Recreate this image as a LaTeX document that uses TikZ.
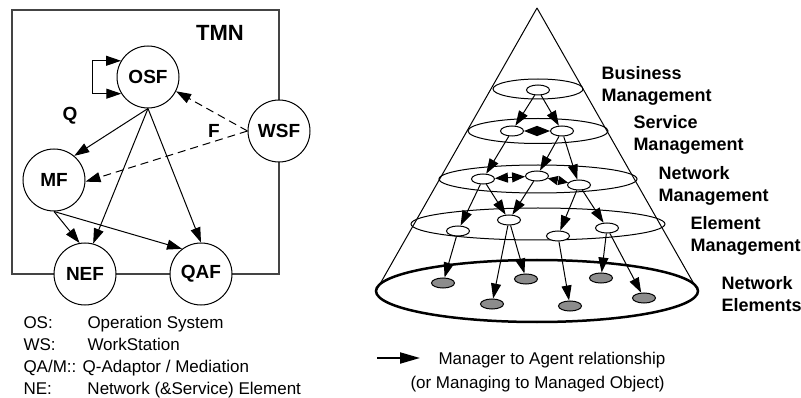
\documentclass[tikz,border=0pt]{standalone}
\usepackage{fontspec}
\setmainfont{Liberation Sans}
\usepackage{xcolor}
\usetikzlibrary{
	arrows.meta, shapes.geometric,
	positioning, calc
}
\definecolor{boxgray}{RGB}{68,68,68}
\definecolor{negray}{RGB}{140,140,140}
\tikzstyle{line} = [draw, -{Triangle[length=15pt,width=10pt]}]
\tikzstyle{loopline} = [draw, {Triangle[length=15pt,width=10pt]}-{Triangle[length=15pt,width=10pt]}]
\tikzstyle{peer} = [draw, {Triangle[length=13pt,width=10pt]}-{Triangle[length=13pt,width=10pt]}]
\tikzstyle{dline} = [line, dash pattern=on 8pt off 5pt]
\tikzstyle{key} = [draw, line width=2pt, -{Triangle[length=20pt,width=11pt]}]
\tikzstyle{fblock} = [circle, draw, fill=white, minimum size=62pt, inner sep=0pt, font=\fontsize{19}{19}\selectfont\bfseries]
\tikzstyle{iface} = [inner sep=0pt, font=\fontsize{19}{19}\selectfont\bfseries]
\tikzstyle{mobj} = [ellipse, draw, fill=white, minimum width=23pt, minimum height=10pt, inner sep=0pt]
\tikzstyle{nelem} = [mobj, fill=negray]
\tikzstyle{lvl} = [anchor=base west, align=left, inner sep=0pt, font=\fontsize{18}{22}\selectfont\bfseries]
\tikzstyle{legend} = [anchor=base west, align=left, inner sep=0pt, font=\fontsize{17}{21.7}\selectfont]

\begin{document}
\begin{tikzpicture}[x=1pt, y=-1pt, line width=1pt]
    \useasboundingbox (0,0) rectangle (801,398);
    %%% TMN functional blocks:
    \draw[boxgray, line width=1.5pt] (12,10) rectangle (279,274);
    \node[iface, font=\fontsize{22}{22}\selectfont\bfseries] (tmn) at (220,33) {TMN};
    \node[fblock] (osf) at (148,77) {OSF};
    \node[fblock] (wsf) at (279,131) {WSF};
    \node[fblock] (mf) at (54,180) {MF};
    \node[fblock] (nef) at (85,274) {NEF};
    \node[fblock] (qaf) at (201,274) {QAF};
    \node[iface] (q) at (70,116) {Q};
    \node[iface] (f) at (214,131) {F};
    \path [loopline] (osf.149) -- ++(-29,0) |- (osf.212);
    \path [line] (osf.south) -- (mf.50);
    \path [line] (osf.south) -- (nef.75);
    \path [line] (osf.south) -- (qaf.north);
    \path [line] (mf.south) -- (nef.100);
    \path [line] (mf.south) -- (qaf.127);
    \path [dline] (wsf.west) -- (osf.333);
    \path [dline] (wsf.west) -- (mf.-3);
    % base of a multi-line node is its last line
    \node[legend] (abbr) at (23,394) {\makebox[64pt][l]{OS:}Operation System\\
      \makebox[64pt][l]{WS:}WorkStation\\
      QA/M:: Q-Adaptor / Mediation\\
      \makebox[64pt][l]{NE:}Network (\&Service) Element};
    %%% Management pyramid:
    \coordinate (apex) at (537,8);
    \draw (apex) -- (376,291);
    \draw (apex) -- (698,291);
    \draw (538,89) ellipse [x radius=45pt, y radius=10pt];
    \draw (538,131) ellipse [x radius=70pt, y radius=12.5pt];
    \draw (538,179) ellipse [x radius=99pt, y radius=14pt];
    \draw (538,224) ellipse [x radius=127pt, y radius=16pt];
    \draw[line width=2.5pt] (537,291) ellipse [x radius=161pt, y radius=31pt];
    \node[mobj] (bm) at (538,90) {};
    \node[mobj] (sm1) at (512,131) {};
    \node[mobj] (sm2) at (562,131) {};
    \node[mobj] (nm1) at (483,179) {};
    \node[mobj] (nm2) at (537,176) {};
    \node[mobj] (nm3) at (579,185) {};
    \node[mobj] (em1) at (458,231) {};
    \node[mobj] (em2) at (509,220) {};
    \node[mobj] (em3) at (558,236) {};
    \node[mobj] (em4) at (607,228) {};
    \node[nelem] (ne1) at (443,283) {};
    \node[nelem] (ne2) at (492,304) {};
    \node[nelem] (ne3) at (526,279) {};
    \node[nelem] (ne4) at (570,306) {};
    \node[nelem] (ne5) at (601,278) {};
    \node[nelem] (ne6) at (644,298) {};
    \path [line] (bm) -- (sm1); \path [line] (bm) -- (sm2);
    \path [peer] (sm1) -- (sm2);
    \path [line] (sm1) -- (nm1); \path [line] (sm2) -- (nm2);
    \path [line] (sm2) -- (nm3);
    \path [peer] (nm1) -- (nm2);
    \path [peer, {Triangle[length=10pt,width=9pt]}-{Triangle[length=10pt,width=9pt]}] (nm2) -- (nm3);
    \path [line] (nm1) -- (em1); \path [line] (nm1) -- (em2);
    \path [line] (nm2) -- (em2);
    \path [line] (nm3) -- (em3); \path [line] (nm3) -- (em4);
    \path [line] (em1) -- (ne1);
    \path [line] (em2) -- (ne2); \path [line] (em2) -- (ne3);
    \path [line] (em3) -- (ne4);
    \path [line] (em4) -- (ne5); \path [line] (em4) -- (ne6);
    \node[lvl] (bus) at (601,102) {Business\\Management};
    \node[lvl] (svc) at (633,151) {Service\\Management};
    \node[lvl] (net) at (658,202) {Network\\Management};
    \node[lvl] (ele) at (690,252) {Element\\Management};
    \node[lvl] (nel) at (721,312) {Network\\Elements};
    %%% Key:
    \coordinate (k1) at (377,358);
    \coordinate (k2) at (420,358);
    \path [key] (k1) -- (k2);
    \node[legend] (mgr) at (438,364) {Manager to Agent relationship};
    \node[legend] (mgd) at (410,388) {(or Managing to Managed Object)};
  \end{tikzpicture}
\end{document}
